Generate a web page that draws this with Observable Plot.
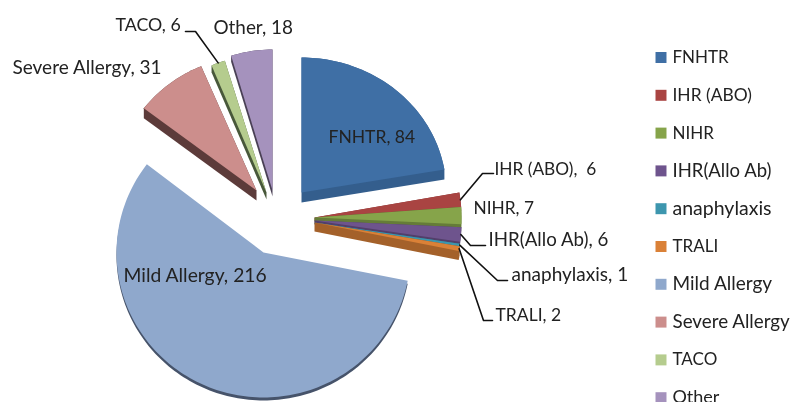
<!DOCTYPE html>
<html><head><meta charset="utf-8">
<script src="https://cdn.jsdelivr.net/npm/d3@7"></script>
<script src="https://cdn.jsdelivr.net/npm/@observablehq/plot@0.6"></script>
<style>html,body{margin:0;padding:0;background:#fff;overflow:hidden}svg{display:block;filter:blur(.5px)}</style>
</head><body><div id="chart"></div>
<script>
const categories = ["FNHTR","IHR (ABO)","NIHR","IHR(Allo Ab)","anaphylaxis","TRALI","Mild Allergy","Severe Allergy","TACO","Other"];
const values = [84,6,7,6,1,2,216,31,6,18];
const topColors = ["#3F6FA5","#A94442","#86A44A","#6E548D","#3D96AE","#DA8137","#8FA8CC","#CC8E8C","#B5CC8E","#A592BD"];
const sideColors = ["#345E8D","#7F3331","#657C38","#523F6A","#2E7183","#A4612A","#46536A","#5C3B3A","#48583A","#4A4055"];
const labels = ["FNHTR, 84","IHR (ABO),  6","NIHR, 7","IHR(Allo Ab), 6","anaphylaxis, 1","TRALI, 2","Mild Allergy, 216","Severe Allergy, 31","TACO, 6","Other, 18"];

// layout of the exploded, slightly tilted pie
const apexX = [301,314,314,314,314,314,263,256,266,272];
const apexY = [192,217,217,220,222,222,252,190,192,190];
const radX  = [145,147,147,147,147,147,147,142,141,140];
const radY  = [135,147,147,147,147,147,145,135,138,141];
const depth = [10,4,4,3,2,9,3,10,7,6];
const labelX = [328,494,473,488,511,495,123,12,115,213];
const labelY = [137,169,208,240,274,315,275,67,25,27];
const labelSize = [17.5,17.3,17.3,18.7,19,17.5,19.3,19,17.8,18.9];
const legendSize = [17,17.4,17,18.5,19.5,17,19,18.8,17,18];
// leader elbows: slice index, elbow x, end x, end y
const leaderSlices = [1,3,4,5,8];
const leaderElbowX = [482,470,497,483,195];
const leaderEndX   = [493,485,507,492,185];
const leaderEndY   = [173,245,280,320,31];

const arcs = d3.pie().sort(null).value(d => d)(values);
const outer = (i, t) => [apexX[i] + radX[i] * Math.sin(t), apexY[i] - radY[i] * Math.cos(t)];
const polygons = arcs.map((a, i) => {
  const n = Math.max(2, Math.ceil((a.endAngle - a.startAngle) * 40));
  const pts = [[apexX[i], apexY[i]]];
  for (let k = 0; k <= n; k++) pts.push(outer(i, a.startAngle + (a.endAngle - a.startAngle) * k / n));
  pts.push([apexX[i], apexY[i]]);
  return pts;
});
const sideFor = (pts, i, a) => {
  const moved = pts.map(([x, y]) => [x, y + depth[i]]);
  return (a.endAngle - a.startAngle) > Math.PI ? moved : [...(h => [...h, h[0]])(d3.polygonHull([...pts, ...moved]))];
};
const rows = [];
arcs.forEach((a, i) => {
  sideFor(polygons[i], i, a).forEach(([x, y]) => rows.push({x, y, key: categories[i] + " side"}));
  polygons[i].forEach(([x, y]) => rows.push({x, y, key: categories[i]}));
});
const leaders = [];
leaderSlices.forEach((s, j) => {
  const a = arcs[s];
  const [x, y] = outer(s, (a.startAngle + a.endAngle) / 2);
  [[x, y], [leaderElbowX[j], leaderEndY[j]], [leaderEndX[j], leaderEndY[j]]].forEach(p =>
    leaders.push({x: p[0], y: p[1], key: categories[s]}));
});
const labelRows = labels.map((t, i) => ({t, x: labelX[i], y: labelY[i], size: labelSize[i]}));
const legendRows = categories.map((name, i) => ({name, y: 57 + i * 37.8, size: legendSize[i]}));

const font = "Lato, 'Open Sans', sans-serif";
const chart = Plot.plot({
  width: 791, height: 402, margin: 0,
  x: {domain: [0, 791], range: [0, 791], axis: null},
  y: {domain: [0, 402], range: [0, 402], axis: null},
  color: {domain: [...categories, ...categories.map(c => c + " side")], range: [...topColors, ...sideColors]},
  style: {background: "#fff"},
  marks: [
    Plot.line(rows, {x: "x", y: "y", z: "key", fill: "key", stroke: "none", curve: "linear"}),
    Plot.line(leaders, {x: "x", y: "y", z: "key", stroke: "#111", strokeWidth: 1.6, curve: "linear"}),
    ...labelRows.map(d => Plot.text([d], {x: "x", y: "y", text: "t", textAnchor: "start", fontFamily: font, fontSize: d.size, fill: "#222"})),
    Plot.dot(legendRows, {x: () => 660.5, y: "y", symbol: "square", r: 6.2, fill: "name", stroke: "none"}),
    ...legendRows.map(d => Plot.text([d], {x: () => 672, y: "y", text: "name", textAnchor: "start", fontFamily: font, fontSize: d.size, fill: "#222"}))
  ]
});
document.getElementById("chart").appendChild(chart);
</script></body></html>
